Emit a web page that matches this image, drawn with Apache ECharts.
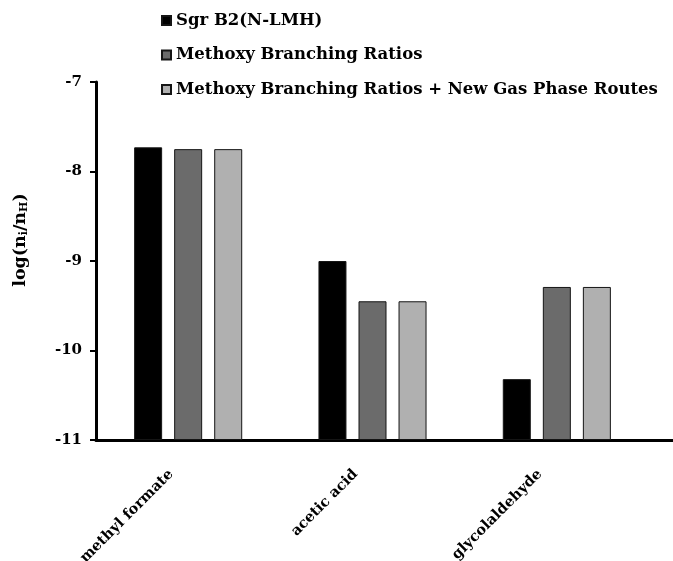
<!DOCTYPE html>
<html><head><meta charset="utf-8">
<script src="https://cdn.jsdelivr.net/npm/echarts@6/dist/echarts.min.js"></script>
<style>html,body{margin:0;padding:0;background:#fff}#c{width:673px;height:561px}</style>
</head><body><div id="c"></div>
<script>
const categories = ['methyl formate', 'acetic acid', 'glycolaldehyde'];
const seriesNames = ['Sgr B2(N-LMH)', 'Methoxy Branching Ratios', 'Methoxy Branching Ratios + New Gas Phase Routes'];
const sgrB2 = [-7.73, -9.0, -10.32];
const methoxy = [-7.75, -9.45, -9.29];
const methoxyNew = [-7.75, -9.45, -9.29];
const yTicks = [-11, -10, -9, -8, -7];
const colors = ['#000000', '#6b6b6b', '#b0b0b0'];

// Bars rise from the bottom of the axis (-11): values are measured from that base
const yBase = yTicks[0];
const yTop = yTicks[yTicks.length - 1];
const font = 'DejaVu Serif';
const chart = echarts.init(document.getElementById('c'));
const values = [sgrB2, methoxy, methoxyNew];
chart.setOption({
  animation: false,
  backgroundColor: '#fff',
  legend: {
    orient: 'vertical', left: 161, top: 12, padding: 0,
    itemWidth: 9, itemHeight: 9, itemGap: 17.5,
    icon: 'rect',
    textStyle: { fontFamily: font, fontWeight: 'bold', fontSize: 16.5, color: '#000' },
    data: seriesNames
  },
  grid: [
    { left: 96, right: 24, top: 82, bottom: 121, outerBoundsMode: 'none', containLabel: false },
    { left: 96, right: 0, top: 82, bottom: 121, outerBoundsMode: 'none', containLabel: false }
  ],
  xAxis: [
    {
      type: 'category', gridIndex: 0, data: categories,
      axisLine: { show: false }, axisTick: { show: false },
      axisLabel: { rotate: 45, margin: 15, padding: [0, 24, 17, 0], fontFamily: font, fontWeight: 'bold', fontSize: 14.5, color: '#000', interval: 0 }
    },
    {
      type: 'value', gridIndex: 1, min: 0, max: 1,
      axisLine: { show: true, onZero: false, lineStyle: { color: '#000', width: 3 } },
      axisTick: { show: false }, axisLabel: { show: false }, splitLine: { show: false }
    }
  ],
  yAxis: [
    {
      type: 'value', gridIndex: 0, min: 0, max: yTop - yBase, interval: 1,
      name: '{b|log(n}{s|i}{b|/n}{s|H}{b|)}',
      nameLocation: 'middle', nameGap: 66, nameRotate: 90,
      nameTextStyle: {
        padding: [0, 0, 0, 42],
        rich: {
          b: { fontFamily: font, fontWeight: 'bold', fontSize: 17.5, color: '#000' },
          s: { fontFamily: font, fontWeight: 'bold', fontSize: 11, color: '#000', padding: [9, 0, 0, 0] }
        }
      },
      axisLine: { show: true, lineStyle: { color: '#000', width: 3 } },
      axisTick: { show: true, inside: false, length: 6, lineStyle: { color: '#000', width: 2 } },
      axisLabel: { margin: 14, fontFamily: font, fontWeight: 'bold', fontSize: 15, color: '#000',
        formatter: v => String(v + yBase) },
      splitLine: { show: false }
    },
    {
      type: 'value', gridIndex: 1, show: false, min: 0, max: 1
    }
  ],
  series: seriesNames.map((n, i) => ({
    name: n, type: 'bar', xAxisIndex: 0, yAxisIndex: 0,
    data: values[i].map(v => v - yBase),
    barWidth: 28, barGap: '43%',
    itemStyle: { color: colors[i], borderColor: '#151515', borderWidth: 1 }
  }))
});
</script></body></html>
